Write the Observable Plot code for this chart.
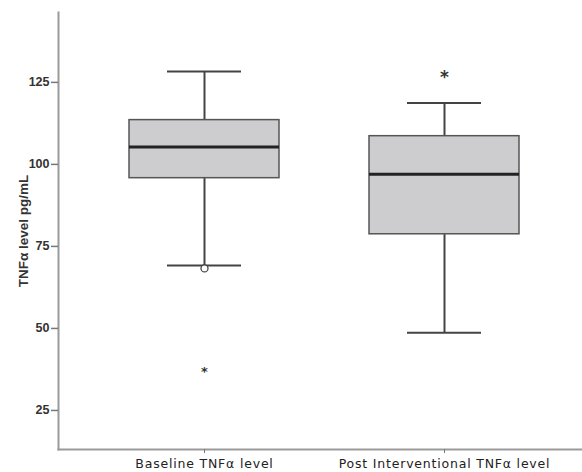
<!DOCTYPE html>
<html><head><meta charset="utf-8">
<script src="https://cdn.jsdelivr.net/npm/d3@7"></script>
<script src="https://cdn.jsdelivr.net/npm/@observablehq/plot@0.6"></script>
<style>body{margin:0;background:#fff}</style>
</head><body><div id="chart"></div>
<script>
const categories = ["Baseline TNFα level", "Post Interventional TNFα level"];
const whiskerLow = [69.2, 48.7];
const q1 = [95.8, 78.7];
const median = [105.3, 97.0];
const q3 = [113.5, 108.6];
const whiskerHigh = [128.3, 118.7];
const outlierCat = ["Baseline TNFα level"];
const outlierVal = [68.3];
const extremeCat = ["Baseline TNFα level", "Post Interventional TNFα level"];
const extremeVal = [37.9, 127.6];
const extremeSize = [13, 17];
const yTicks = [25, 50, 75, 100, 125];
const yLabel = "TNFα level pg/mL";

const boxes = categories.map((c, i) => ({c, lo: whiskerLow[i], q1: q1[i], med: median[i], q3: q3[i], hi: whiskerHigh[i]}));
const outliers = outlierCat.map((c, i) => ({c, v: outlierVal[i]}));
const extremes = extremeCat.map((c, i) => ({c, v: extremeVal[i], s: extremeSize[i]}));

const dark = "#444";
const chart = Plot.plot({
  width: 582, height: 472,
  marginLeft: 58, marginRight: 0, marginTop: 12, marginBottom: 23,
  style: {fontFamily: "'Liberation Sans Narrow', 'Liberation Sans', sans-serif", fontSize: "12px", fontWeight: "bold", color: "#333", background: "#fff"},
  x: {type: "band", domain: categories, range: [129, 519], paddingInner: 0.375, paddingOuter: 0},
  y: {domain: [13.1, 146.3]},
  marks: [
    Plot.frame({anchor: "left", stroke: "#9a9a9a", strokeWidth: 2}),
    Plot.frame({anchor: "bottom", stroke: "#9a9a9a", strokeWidth: 2}),
    Plot.axisY({ticks: yTicks, tickSize: 7, tickPadding: 2, stroke: "#777", strokeWidth: 1.5, label: yLabel, labelAnchor: "center", labelOffset: 40, labelArrow: "none", fontWeight: "bold", fontSize: 12.5}),
    Plot.axisX({tickSize: 4, tickPadding: 6, stroke: "#777", label: null, fontFamily: "'DejaVu Sans', sans-serif", fontWeight: "normal", fontSize: 12.5, fill: "#222"}),
    Plot.ruleX(boxes, {x: "c", y1: "lo", y2: "q1", stroke: dark, strokeWidth: 2}),
    Plot.ruleX(boxes, {x: "c", y1: "q3", y2: "hi", stroke: dark, strokeWidth: 2}),
    Plot.tickY(boxes, {x: "c", y: "lo", stroke: dark, strokeWidth: 2, insetLeft: 38, insetRight: 38}),
    Plot.tickY(boxes, {x: "c", y: "hi", stroke: dark, strokeWidth: 2, insetLeft: 38, insetRight: 38}),
    Plot.barY(boxes, {x: "c", y1: "q1", y2: "q3", fill: "#cdcdd0", stroke: "#555", strokeWidth: 1.5}),
    Plot.tickY(boxes, {x: "c", y: "med", stroke: "#222", strokeWidth: 3}),
    Plot.dot(outliers, {x: "c", y: "v", r: 3.5, fill: "#fff", stroke: "#444", strokeWidth: 1.3}),
    Plot.text(extremes, {x: "c", y: "v", text: () => "*", fontSize: "s", fontFamily: "'DejaVu Sans', sans-serif", fontWeight: "bold", fill: "#333", dy: 4})
  ]
});
document.getElementById("chart").append(chart);
d3.select(chart).selectAll("g[aria-label='x-axis tick label'] text").style("letter-spacing", "0.8px");
d3.select(chart).selectAll("g[aria-label='y-axis label'] text").style("font-size", "13.5px");
</script></body></html>
